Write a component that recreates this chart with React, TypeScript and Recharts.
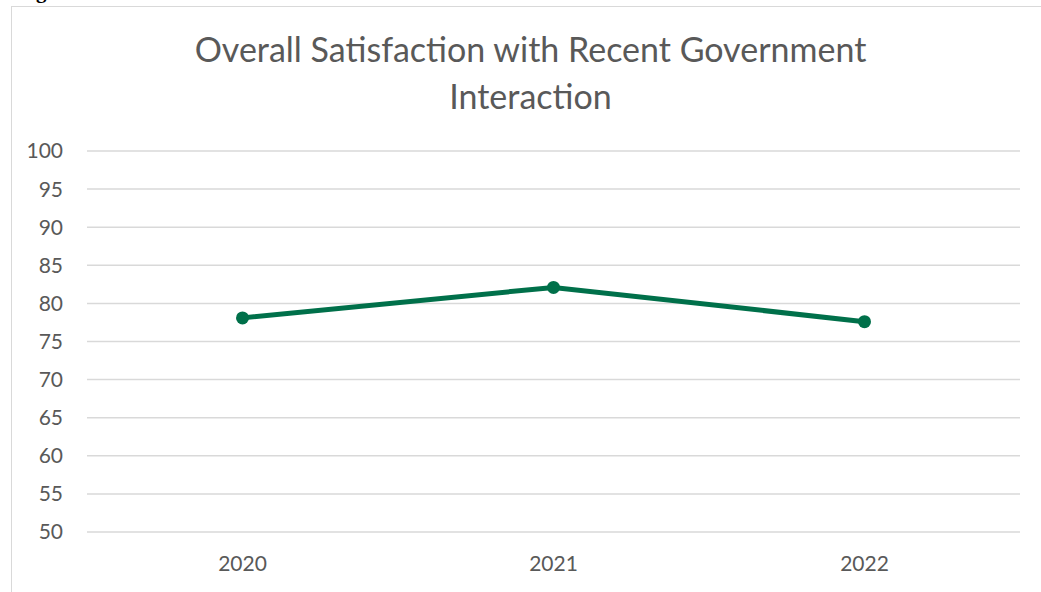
import React from "react";
import { LineChart, Line, XAxis, YAxis, CartesianGrid } from "recharts";

const years = ["2020", "2021", "2022"];
const satisfaction = [78.1, 82.1, 77.6];
const yTicks = [50, 55, 60, 65, 70, 75, 80, 85, 90, 95, 100];

const data = years.map((y, i) => ({ year: y, value: satisfaction[i] }));

const FONT = "Lato, 'Open Sans', sans-serif";

export default function App() {
  return (
    <div style={{ position: "absolute", left: 0, top: 0, width: 1041, height: 592, overflow: "hidden", background: "#fff" }}>
      <div
        style={{
          position: "absolute",
          left: 36,
          top: -19,
          fontFamily: "'Liberation Serif', serif",
          fontWeight: "bold",
          fontSize: 21,
          color: "#000",
          lineHeight: "21px",
        }}
      >
        g
      </div>
      <div
        style={{
          position: "absolute",
          left: 11,
          top: 6,
          width: 1200,
          height: 800,
          border: "1.5px solid #d9d9d9",
          boxSizing: "border-box",
        }}
      />
      <div
        style={{
          position: "absolute",
          left: 0,
          top: 25,
          width: 1061,
          textAlign: "center",
          fontFamily: FONT,
          fontSize: 34,
          lineHeight: "47px",
          color: "#595959",
        }}
      >
        Overall Satisfaction with Recent Government
        <br />
        Interaction
      </div>
      <div style={{ position: "absolute", left: 0, top: 0 }}>
        <LineChart
          width={1041}
          height={592}
          data={data}
          margin={{ top: 151, right: 21, bottom: 0, left: 0 }}
        >
          <CartesianGrid vertical={false} stroke="#d9d9d9" strokeWidth={1.5} />
          <XAxis
            dataKey="year"
            height={60}
            axisLine={false}
            tickLine={false}
            tickMargin={18}
            padding={{ left: 155.5, right: 155.5 }}
            tick={{ fill: "#595959", fontSize: 21, fontFamily: FONT }}
          />
          <YAxis
            width={87}
            domain={[50, 100]}
            ticks={yTicks}
            interval={0}
            axisLine={false}
            tickLine={false}
            tickMargin={18}
            tick={{ fill: "#595959", fontSize: 21, fontFamily: FONT }}
          />
          <Line
            type="linear"
            dataKey="value"
            stroke="#00704A"
            strokeWidth={5}
            dot={{ r: 6.5, fill: "#00704A", stroke: "#00704A", strokeWidth: 0 }}
            activeDot={false}
            isAnimationActive={false}
          />
        </LineChart>
      </div>
    </div>
  );
}
